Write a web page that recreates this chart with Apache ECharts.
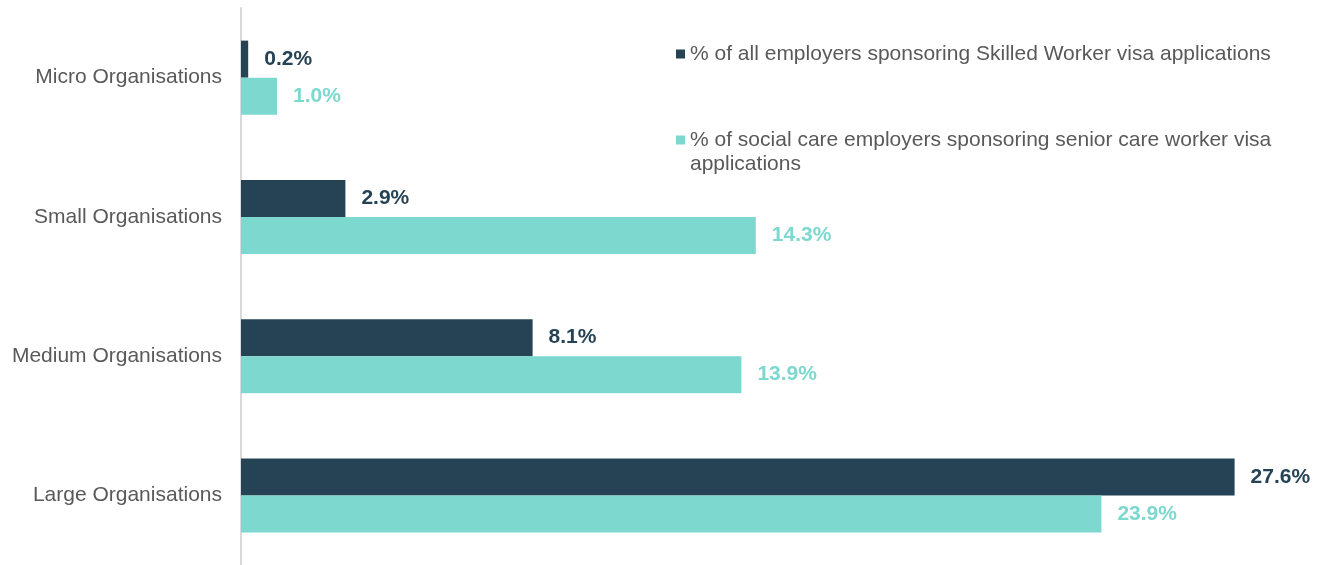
<!DOCTYPE html>
<html>
<head>
<meta charset="utf-8">
<script src="https://cdn.jsdelivr.net/npm/echarts@6/dist/echarts.min.js"></script>
<style>
  html, body { margin: 0; padding: 0; background: #fff; }
  #chart { width: 1328px; height: 565px; }
</style>
</head>
<body>
<div id="chart"></div>
<script>
const categories = ['Micro Organisations', 'Small Organisations', 'Medium Organisations', 'Large Organisations']
const allEmployers = [0.2, 2.9, 8.1, 27.6]
const socialCare = [1.0, 14.3, 13.9, 23.9]
const seriesNames = [
  '% of all employers sponsoring Skilled Worker visa applications',
  '% of social care employers sponsoring senior care worker visa applications'
]

const dark = '#264355'
const teal = '#7dd8cf'
const fontFamily = '"Liberation Sans", Arial, sans-serif'

const chart = echarts.init(document.getElementById('chart'))

const pctLabel = (color) => ({
  show: true,
  position: 'right',
  distance: 16,
  color: color,
  fontFamily: fontFamily,
  fontSize: 21,
  fontWeight: 'bold',
  formatter: (p) => p.value.toFixed(1) + '%'
})

const legendText = {
  color: '#595959',
  fontFamily: fontFamily,
  fontSize: 21,
  lineHeight: 24
}

chart.setOption({
  animation: false,
  grid: {
    left: 241,
    top: 8,
    width: 1080,
    height: 560
  },
  legend: [
    {
      data: [seriesNames[0]],
      left: 676,
      top: 42,
      padding: 0,
      itemWidth: 9,
      itemHeight: 9,
      icon: 'rect',
      textStyle: legendText
    },
    {
      data: [seriesNames[1]],
      left: 676,
      top: 104,
      padding: 0,
      itemWidth: 9,
      itemHeight: 9,
      icon: 'rect',
      // leading blank line keeps the marker level with the first text line
      formatter: () => '\n% of social care employers sponsoring senior care worker visa\napplications',
      textStyle: legendText
    }
  ],
  xAxis: {
    type: 'value',
    min: 0,
    max: 30,
    show: false
  },
  yAxis: {
    type: 'category',
    data: categories,
    inverse: true,
    axisLine: { show: true, lineStyle: { color: '#d9d9d9', width: 2 } },
    axisTick: { show: false },
    axisLabel: {
      color: '#595959',
      fontFamily: fontFamily,
      fontSize: 21,
      margin: 19
    }
  },
  series: [
    {
      name: seriesNames[0],
      type: 'bar',
      data: allEmployers,
      barWidth: 37,
      barGap: '0%',
      itemStyle: { color: dark },
      label: pctLabel(dark)
    },
    {
      name: seriesNames[1],
      type: 'bar',
      data: socialCare,
      barWidth: 37,
      barGap: '0%',
      itemStyle: { color: teal },
      label: pctLabel(teal)
    }
  ]
})
</script>
</body>
</html>
